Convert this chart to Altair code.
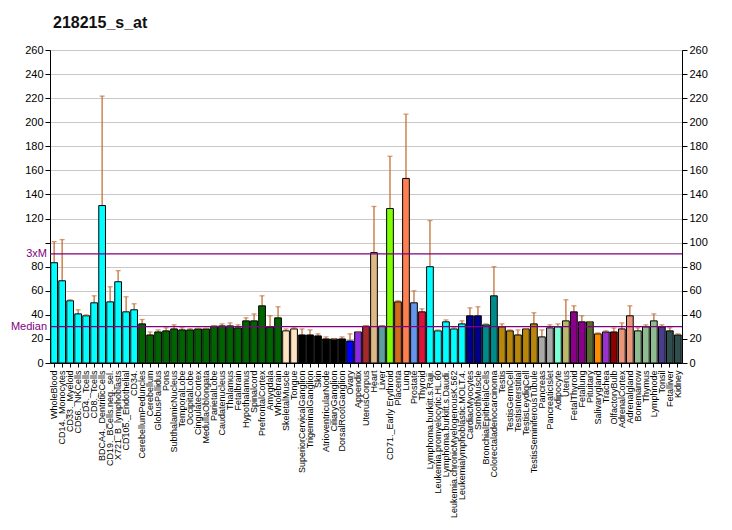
import altair as alt
import pandas as pd

names = ["WholeBlood", "CD14._Monocytes", "CD33._Myeloid", "CD56._NKCells", "CD4._Tcells", "CD8._Tcells",
         "BDCA4._DentriticCells", "CD19._BCells.neg._sel.", "X721_B_lymphoblasts", "CD105._Endothelial", "CD34.",
         "CerebellumPeduncles", "Cerebellum", "GlobusPallidus", "Pons", "SubthalamicNucleus", "TemporalLobe",
         "OccipitalLobe", "CingulateCortex", "MedullaOblongata", "ParietalLobe", "Caudatenucleus", "Thalamus",
         "Fetalbrain", "Hypothalamus", "Spinalcord", "PrefrontalCortex", "Amygdala", "Wholebrain",
         "SkeletalMuscle", "Tongue",
         "SuperiorCervicalGanglion", "TrigeminalGanglion", "Skin", "AtrioventricularNode", "CiliaryGanglion",
         "DorsalRootGanglion",
         "Ovary", "Appendix", "UterusCorpus", "Heart", "Liver", "CD71._Early Erythroid", "Placenta", "Lung",
         "Prostate", "Thyroid",
         "Lymphoma.burkitt.s.Raji.", "Leukemia.promyelocytic.HL.60", "Lymphoma.burkitt.s.Daudi.",
         "Leukemia.chronicMyelogenousK.562", "Leukemialymphoblastic.MOLT.4.",
         "CardiacMyocytes", "SmoothMuscle", "BronchialEpithelialCells", "Colorectaladenocarcinoma",
         "Testis", "TestisGermCell", "TestisInterstitial", "TestisLeydigCell", "TestisSeminiferousTubule",
         "Pancreas", "PancreaticIslet", "Adipocyte", "Uterus", "FetalThyroid", "Fetallung", "Pituitary",
         "Salivarygland", "Trachea", "OlfactoryBulb", "AdrenalCortex", "Adrenalgland",
         "Bonemarrow", "Thymus", "Lymphnode", "Tonsil", "Fetalliver", "Kidney"]

values = [83.3, 68.3, 51.7, 40.8, 39.2, 50, 130.8, 50.8, 67.5, 42.5, 44.2,
          32.5, 23.3, 25.8, 26.7, 28.3, 27.5, 27.5, 28.3, 28.3, 30.6, 30.8, 30.8, 29.2, 35, 35, 47.5, 30, 37.5,
          26.7, 28.3,
          23.3, 23.3, 22.5, 20, 20, 20,
          18.3, 25.8, 30.6, 91.7, 30.6, 128.3, 50.8, 153.3, 50, 42.5,
          80, 26.7, 34.2, 28.3, 32.5,
          39.2, 39.2, 31.7, 55.8,
          30, 26.7, 23.3, 28.3, 32.5,
          21.7, 29.2, 30, 35, 42.5, 34.2, 34.2, 24.2, 25.8, 25.8, 28.3, 39.2,
          26.7, 30, 35, 30, 26.7, 23.3]

errs = [100.8, 102.5, 52.5, 44.2, 40, 55.8, 221.7, 63.3, 76.7, 55, 49.2,
        36.1, 25.8, 27.5, 29.2, 31.7, 29.2, 28.5, 28.8, 28.8, 31, 32.5, 33.3, 31.7, 37.5, 40.8, 55.8, 39.2, 46.7,
        28.3, 29.2,
        28.3, 27.5, 24.2, 21.7, 20, 21.7,
        24.2, 25.8, 31, 130, 31, 171.7, 51.7, 206.7, 60, 45,
        118.3, 27.5, 35.8, 29.2, 35,
        45.8, 46.7, 32.5, 80,
        32.5, 27.5, 27.5, 28.3, 41.7,
        27.5, 31.7, 32.5, 52.5, 47.5, 39.2, 34.2, 25, 26.7, 29, 33.3, 47.5,
        29.2, 31.7, 40.8, 31.7, 29.2, 24.2]

colors = (["#00FFFF"] * 11 + ["#006400"] * 18 + ["#FFE4C4"] * 2 + ["#000000"] * 6 +
          ["#0000FF", "#8A2BE2", "#A52A2A", "#DEB887", "#5F9EA0", "#7FFF00", "#D2691E", "#FF7F50",
           "#6495ED", "#DC143C"] +
          ["#00FFFF"] * 5 + ["#00008B"] * 2 + ["#008B8B"] * 2 + ["#B8860B"] * 5 + ["#A9A9A9"] * 2 +
          ["#7FFFD4", "#BDB76B", "#8B008B", "#8B008B", "#556B2F", "#FF8C00", "#9932CC", "#8B0000",
           "#E9967A", "#E9967A"] +
          ["#8FBC8F"] * 3 + ["#483D8B"] + ["#2F4F4F"] * 2)

ref_labels = ["3xM", "Median"]
ref_values = [90.6, 30.2]
tick_values = list(range(0, 261, 20))

df = pd.DataFrame({"name": names, "value": values, "err": errs, "color": colors})
ref = pd.DataFrame({"label": ref_labels, "v": ref_values})

FONT = "Liberation Sans"
yscale = alt.Scale(domain=[0, 260], nice=False, zero=True)

xenc = alt.X("name:N", sort=names, title=None,
             scale=alt.Scale(paddingInner=0.16, paddingOuter=0.1),
             axis=alt.Axis(labelAngle=-90, labelAlign="right", labelBaseline="middle",
                           labelFontSize=9, labelFont=FONT, labelColor="black",
                           tickColor="black", domainColor="black", tickSize=4,
                           labelPadding=3, labelOverlap=False, labelLimit=300))

base = alt.Chart(df)

bars = base.mark_bar(stroke="black", strokeWidth=1).encode(
    x=xenc,
    y=alt.Y("value:Q", scale=yscale, title=None,
            axis=alt.Axis(orient="left", values=tick_values, grid=False, tickSize=5,
                          labelExpr="datum.value == 100 ? '' : datum.label",
                          domainColor="black", tickColor="black", labelColor="black",
                          labelFontSize=11, labelFont=FONT, labelPadding=2)),
    color=alt.Color("color:N", scale=None),
)

errline = base.mark_rule(color="#C4703A", strokeWidth=1.3).encode(
    x=xenc,
    y=alt.Y("value:Q", scale=yscale, title=None,
            axis=alt.Axis(orient="right", values=tick_values, grid=True, gridColor="#c8c8c8",
                          tickSize=5, domainColor="black", tickColor="black", labelColor="black",
                          labelFontSize=11, labelFont=FONT, labelPadding=2)),
    y2="err:Q",
)

caps = base.mark_tick(color="#C4703A", thickness=1.3, size=5).encode(
    x=xenc,
    y=alt.Y("err:Q", scale=yscale, axis=None),
)

reflines = alt.Chart(ref).mark_rule(color="#800080", strokeWidth=1.3).encode(
    y=alt.Y("v:Q", scale=yscale, axis=None),
)

reftext = alt.Chart(ref).mark_text(align="right", baseline="middle", color="#800080",
                                   fontSize=11, font=FONT).encode(
    x=alt.value(-3),
    y=alt.Y("v:Q", scale=yscale, axis=None),
    text="label:N",
)

chart = alt.layer(errline, bars, caps, reflines, reftext).resolve_axis(y="independent").properties(
    width=632, height=313,
    autosize="none",
    padding={"left": 42, "top": 42, "right": 42, "bottom": 160},
    title=alt.TitleParams("218215_s_at", anchor="start", frame="group", fontSize=16,
                          fontWeight="bold", font=FONT, color="#111111", dx=3, dy=19,
                          baseline="bottom", offset=16),
).configure_view(stroke=None).configure(background="white")

chart.save("out.html", embed_options={"renderer": "svg", "actions": False})
